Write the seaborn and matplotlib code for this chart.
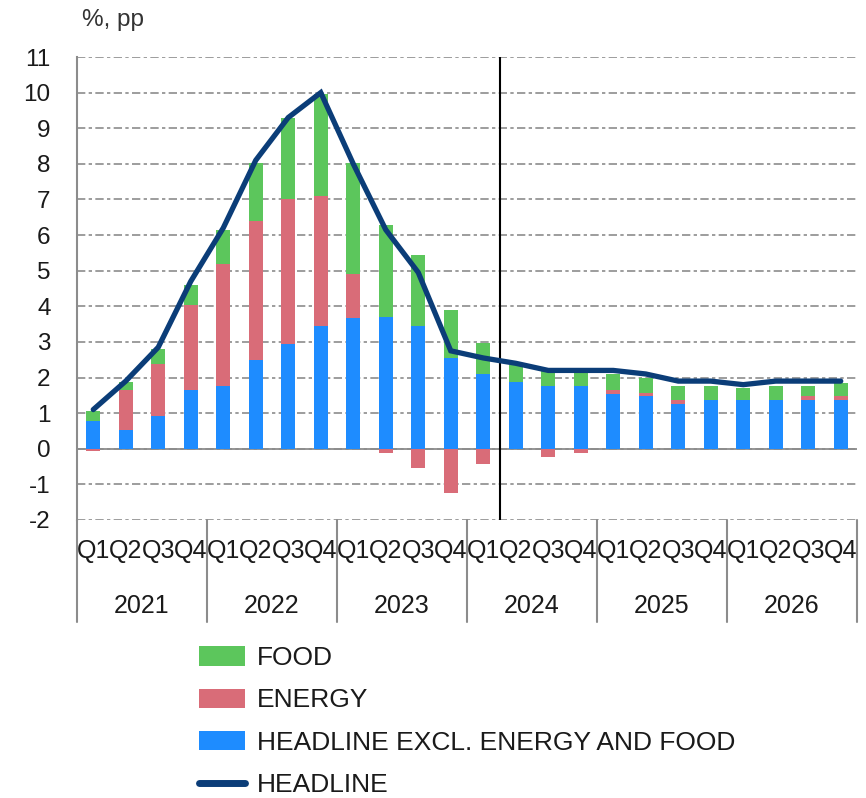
import numpy as np
import pandas as pd
import matplotlib
matplotlib.use("Agg")
import matplotlib.pyplot as plt
import matplotlib.transforms as mtransforms
from matplotlib.patches import Patch
from matplotlib.lines import Line2D
import seaborn as sns

# ---------------- data ----------------
years = ["2021", "2022", "2023", "2024", "2025", "2026"]
quarters = ["Q1", "Q2", "Q3", "Q4"]

core = [0.77, 0.53, 0.93, 1.64, 1.77, 2.50, 2.95, 3.44,
        3.67, 3.69, 3.46, 2.55, 2.11, 1.87, 1.77, 1.77,
        1.55, 1.47, 1.26, 1.38, 1.38, 1.38, 1.38, 1.38]
energy = [-0.05, 1.13, 1.46, 2.41, 3.43, 3.89, 4.05, 3.67,
          1.25, -0.13, -0.54, -1.23, -0.42, 0.00, -0.22, -0.12,
          0.11, 0.09, 0.10, 0.00, 0.00, 0.00, 0.09, 0.09]
food = [0.28, 0.21, 0.41, 0.55, 0.93, 1.64, 2.30, 2.84,
        3.09, 2.58, 1.98, 1.36, 0.86, 0.48, 0.45, 0.47,
        0.45, 0.43, 0.41, 0.39, 0.32, 0.39, 0.30, 0.39]
headline = [1.10, 1.90, 2.85, 4.70, 6.20, 8.10, 9.30, 10.00,
            8.00, 6.15, 4.95, 2.75, 2.55, 2.40, 2.20, 2.20,
            2.20, 2.10, 1.90, 1.90, 1.80, 1.90, 1.90, 1.90]

series_labels = ["FOOD", "ENERGY", "HEADLINE EXCL. ENERGY AND FOOD", "HEADLINE"]
unit_label = "%, pp"

# ---------------- styles ----------------
c_food = "#5cc65c"
c_energy = "#d96c78"
c_core = "#1e8cff"
c_head = "#0b3d78"
c_grid = "#8c8c8c"
c_text = "#1a1a1a"

periods = [f"{y}{q}" for y in years for q in quarters]
df = pd.DataFrame({"period": periods, "core": core, "energy": energy,
                   "food": food, "headline": headline})
df["energy_pos"] = df["energy"].clip(lower=0)
df["energy_neg"] = df["energy"].clip(upper=0)
df["lvl_pink"] = df["core"] + df["energy_pos"]
df["lvl_green"] = df["lvl_pink"] + df["food"]
df["idx"] = np.arange(len(df))

sns.set_style("white")
plt.rcParams["font.family"] = ["Liberation Sans", "DejaVu Sans"]
plt.rcParams["axes.unicode_minus"] = False

fig = plt.figure(figsize=(8.66, 7.98), dpi=100)
ax = fig.add_axes([77 / 866, 1 - 520 / 798, (857 - 77) / 866, (520 - 57) / 798])

bw = 0.42
common = dict(data=df, x="period", width=bw, saturation=1, linewidth=0, ax=ax, zorder=2)
sns.barplot(y="lvl_green", color=c_food, **common)
sns.barplot(y="lvl_pink", color=c_energy, **common)
sns.barplot(y="core", color=c_core, **common)
sns.barplot(y="energy_neg", color=c_energy, **common)

sns.lineplot(data=df, x="idx", y="headline", color=c_head, lw=3.8, ax=ax,
             zorder=5, solid_joinstyle="miter")

ax.set_xlim(-0.5, len(df) - 0.5)
ax.set_ylim(-2, 11)
ax.set_yticks(range(-2, 12))
ax.yaxis.grid(True, linestyle=(0, (5, 2, 2, 2)), color=c_grid, lw=1.2)
ax.xaxis.grid(False)
ax.set_axisbelow(True)
ax.axhline(0, color=c_grid, lw=1.3, zorder=1.5)
ax.axvline(12.5, color="black", lw=1.5, zorder=3)

ax.set_xlabel("")
ax.set_ylabel("")
ax.set_xticks(range(len(df)))
ax.set_xticklabels(quarters * len(years))
ax.tick_params(axis="x", length=0, pad=14, labelsize=18, labelcolor=c_text)
ax.tick_params(axis="y", length=0, pad=19, labelsize=17.5, labelcolor=c_text)

for s in ["top", "right", "bottom"]:
    ax.spines[s].set_visible(False)
ax.spines["left"].set_color(c_grid)
ax.spines["left"].set_linewidth(1.5)

trans = mtransforms.blended_transform_factory(ax.transData, ax.transAxes)
for k in range(len(years) + 1):
    ax.plot([k * 4 - 0.5, k * 4 - 0.5], [0, -0.22], transform=trans,
            color=c_grid, lw=1.5, clip_on=False)
for i, y in enumerate(years):
    ax.text(i * 4 + 1.5, -0.185, y, transform=trans, ha="center", va="center",
            fontsize=18, color=c_text)

fig.text(82 / 866, 1 - 20 / 798, unit_label, ha="left", va="center",
         fontsize=17.5, color="#333333")

handles = [Patch(facecolor=c_food, edgecolor="none"),
           Patch(facecolor=c_energy, edgecolor="none"),
           Patch(facecolor=c_core, edgecolor="none"),
           Line2D([0], [0], color=c_head, lw=5, solid_capstyle="round")]
fig.legend(handles, series_labels, loc="upper left",
           bbox_to_anchor=(199 / 866, 1 - 646 / 798), frameon=False,
           fontsize=19, handlelength=1.75, handleheight=0.76, handletextpad=0.45,
           labelspacing=0.7, borderpad=0, borderaxespad=0, labelcolor=c_text)

fig.savefig("out.png", dpi=100)
